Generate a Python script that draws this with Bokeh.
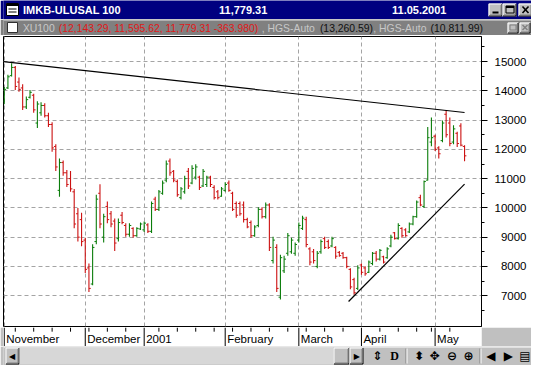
from bokeh.plotting import figure
from bokeh.layouts import column
from bokeh.models import Range1d, FixedTicker, Grid, ColumnDataSource
from bokeh.core.properties import value
from bokeh.embed import file_html
from bokeh.resources import INLINE
import numpy as np

# ---------------- data ----------------
title_name = "IMKB-ULUSAL 100"
title_value = "11,779.31"
title_date = "11.05.2001"
legend_parts = ["XU100", "(12,143.29, 11,595.62, 11,779.31 -363.980)", ", HGS-Auto",
                "(13,260.59)", ", HGS-Auto", "(10,811.99)"]

highs = [14130, 14554, 14945, 14847, 14456, 14228, 13805, 14033, 13902, 13642,
         13609, 13577, 13251, 12925, 12176, 11688, 11623, 11297, 11264, 10646,
         9994, 9831, 8984, 8104, 8756, 10450, 10808, 9798, 10222, 9896,
         9635, 9635, 9863, 9472, 9472, 9342, 9342, 9505, 9537, 9472,
         10222, 10385, 10613, 10939, 11623, 11688, 11297, 10971, 10711, 11101,
         11362, 11460, 11492, 11101, 11329, 11101, 11101, 10776, 10613, 10711,
         10874, 10939, 10548, 10222, 10222, 10222, 9668, 9570, 9407, 10026,
         10026, 10189, 10157, 9016, 8756, 8397, 8365, 9146, 8984, 8821,
         9505, 9733, 9700, 8658, 8593, 8528, 8918, 9016, 8918, 9016,
         8690, 8528, 8495, 8332, 7941, 7616, 8039, 8104, 8007, 8202,
         8495, 8528, 8593, 8365, 8658, 9081, 9179, 9472, 9342, 9309,
         9505, 9733, 10255, 10450, 10939, 12763, 13088, 12502, 12111, 12990,
         13349, 13088, 12828, 12600, 12893, 12143.29]
lows = [13544, 14065, 14489, 14033, 13967, 13349, 13381, 13740, 13251, 12730,
        13153, 13088, 12763, 11916, 11264, 10385, 11101, 10711, 10548, 9309,
        8853, 8690, 7779, 7128, 7356, 8756, 9309, 8821, 9472, 9342,
        8528, 8853, 9440, 9016, 9016, 8984, 9016, 9244, 9179, 9146,
        9146, 9896, 9896, 10450, 10874, 11101, 10874, 10385, 10287, 10483,
        10646, 10808, 10971, 10613, 10711, 10711, 10711, 10287, 10287, 10385,
        10548, 10548, 9896, 9668, 9733, 9505, 9309, 8984, 9016, 9342,
        9635, 9635, 8528, 8104, 7128, 6867, 7779, 8365, 8430, 8365,
        8821, 9244, 8658, 8039, 8104, 7941, 8430, 8593, 8593, 8658,
        8267, 8332, 8267, 7941, 7225, 7030, 7193, 7714, 7681, 7779,
        8039, 8169, 8202, 8104, 8267, 8658, 8918, 8918, 8984, 9016,
        9146, 9407, 9668, 10059, 9994, 10939, 12111, 11948, 11688, 12241,
        12404, 12111, 12176, 12078, 12111, 11595.62]
opens = [13650, 14100, 14520, 14800, 14300, 14100, 13450, 13780, 13850, 12900,
         13250, 13500, 13150, 12850, 12100, 10600, 11550, 11200, 11000, 10550,
         9800, 9600, 8900, 7950, 7400, 8850, 10500, 9000, 10050, 9800,
         9550, 8950, 9750, 9400, 9100, 9300, 9050, 9280, 9250, 9420,
         9200, 10300, 9950, 10500, 10950, 11600, 11250, 10900, 10350, 10550,
         11250, 10850, 11050, 11050, 10750, 10800, 11050, 10700, 10550, 10400,
         10600, 10850, 10500, 10150, 10150, 10100, 9600, 9500, 9050, 9400,
         9950, 9700, 10100, 8200, 8650, 6950, 7850, 8450, 8500, 8450,
         8900, 9300, 9600, 8600, 8500, 8000, 8500, 8950, 8850, 8700,
         8650, 8480, 8450, 8300, 7900, 7550, 7250, 8050, 7950, 7800,
         8100, 8450, 8250, 8330, 8300, 8700, 9150, 8950, 9300, 9250,
         9180, 9450, 9700, 10350, 10050, 10950, 12250, 12450, 12050, 12300,
         13200, 12900, 12250, 12550, 12800, 12100]
closes = [14050, 14480, 14800, 14150, 14050, 13450, 13700, 13950, 13350, 13550,
          13500, 13150, 12850, 12050, 11400, 11550, 11200, 10800, 10650, 9450,
          9000, 8850, 7900, 7250, 8650, 10300, 9450, 9700, 9600, 9450,
          8800, 9500, 9500, 9100, 9400, 9050, 9300, 9450, 9480, 9200,
          10150, 9950, 10550, 10850, 11500, 11200, 10950, 10450, 10650, 11000,
          10750, 11350, 11400, 10700, 11250, 11050, 10800, 10350, 10350, 10650,
          10800, 10600, 9950, 9750, 9800, 9600, 9350, 9050, 9350, 9950,
          9700, 10100, 8650, 8900, 7250, 8300, 8250, 9050, 8900, 8750,
          9400, 9650, 8750, 8150, 8200, 8450, 8850, 8650, 8650, 8950,
          8350, 8370, 8300, 8000, 7300, 7100, 7950, 7800, 7750, 8150,
          8450, 8250, 8550, 8150, 8600, 9000, 8950, 9400, 9050, 9050,
          9450, 9700, 10200, 10100, 10900, 12400, 12400, 12000, 11850, 12900,
          12500, 12200, 12700, 12200, 12143.29, 11779.31]

month_starts = [0, 22, 38, 60, 80, 97, 117]
month_labels = ["November", "December", "2001", "February", "March", "April", "May"]
week_ticks = [3, 8, 13, 18, 23, 28, 33, 42, 47, 52, 57, 62, 67, 72, 77,
              82, 87, 92, 102, 107, 112, 116, 121]
y_ticks = [7000, 8000, 9000, 10000, 11000, 12000, 13000, 14000, 15000]
y_minor = [6500, 7500, 8500, 9500, 10500, 11500, 12500, 13500, 14500, 15500]

upper_trend_x = [-0.2, 125]
upper_trend_y = [15000, 13260.59]
lower_trend_x = [93.5, 125]
lower_trend_y = [6802, 10811.99]

# ---------------- styling helpers ----------------
W = 531
BL, BR = 3, 50
FW = W - BL - BR
SANS = value("Liberation Sans")
SYM = value("DejaVu Sans")
FACE = "#c0c0c0"


def deco_fig(h, bg):
    f = figure(frame_width=W, frame_height=h, x_range=Range1d(0, W), y_range=Range1d(h, 0),
               x_axis_location=None, y_axis_location=None, toolbar_location=None,
               output_backend="svg", min_border_left=0, min_border_right=0,
               min_border_top=0, min_border_bottom=0)
    f.background_fill_color = bg
    f.border_fill_color = bg
    f.outline_line_color = None
    f.grid.visible = False
    return f


def raised(f, x0, y0, x1, y1):
    f.quad(left=[x0], right=[x1], top=[y0], bottom=[y1], fill_color=FACE, line_color=None)
    f.segment(x0=[x0 + 0.5, x0 + 0.5], y0=[y0 + 0.5, y0 + 0.5],
              x1=[x1 - 0.5, x0 + 0.5], y1=[y0 + 0.5, y1 - 0.5], line_color="white")
    f.segment(x0=[x0 + 0.5, x1 - 0.5], y0=[y1 - 0.5, y0 + 0.5],
              x1=[x1 - 0.5, x1 - 0.5], y1=[y1 - 0.5, y1 - 0.5], line_color="black")
    f.segment(x0=[x0 + 1.5, x1 - 1.5], y0=[y1 - 1.5, y0 + 1.5],
              x1=[x1 - 1.5, x1 - 1.5], y1=[y1 - 1.5, y1 - 1.5], line_color="#808080")


# ---------------- title bar ----------------
tb = deco_fig(19, "#000080")
tb.quad(left=[3], right=[15], top=[3], bottom=[15], fill_color="white", line_color="black")
tb.segment(x0=[3, 5, 5], y0=[4.5, 8.5, 11.5], x1=[15, 13, 13], y1=[4.5, 8.5, 11.5],
           line_color="black", line_width=[2, 1, 1])
tb.text(x=[19.5, 215.5, 388.5], y=[9.8, 9.8, 9.8], text=[title_name, title_value, title_date],
        text_font=SANS, text_font_size="11px", text_font_style="bold",
        text_color="white", text_baseline="middle", text_align="left")
raised(tb, 485, 3, 499, 16)
raised(tb, 499, 3, 513, 16)
raised(tb, 515, 3, 529, 16)
tb.segment(x0=[489], y0=[12], x1=[495], y1=[12], line_color="black", line_width=2)
tb.quad(left=[502.5], right=[510.5], top=[5.5], bottom=[12.5], fill_color=None, line_color="black")
tb.segment(x0=[502.5], y0=[6.5], x1=[510.5], y1=[6.5], line_color="black", line_width=2)
tb.segment(x0=[519, 525], y0=[6, 6], x1=[525, 519], y1=[12.5, 12.5], line_color="black", line_width=1.6)

# ---------------- legend bar ----------------
lb = deco_fig(16, "#808080")
lb.segment(x0=[0], y0=[0.5], x1=[W], y1=[0.5], line_color="#e0e0e0")
lb.quad(left=[4], right=[14], top=[3], bottom=[13], fill_color="white", line_color="#303030")
lb_x = [19.4, 55.3, 258.2, 316.4, 369.8, 427.1]
lb_col = ["#c8c8c8", "#e01818", "#c8c8c8", "#101010", "#c8c8c8", "#101010"]
lb.text(x=lb_x, y=[8.6] * 6, text=legend_parts, text_font=SANS, text_font_size="10.4px",
        text_color=lb_col, text_baseline="middle", text_align="left")
raised(lb, 504, 3, 515, 14)
raised(lb, 516, 3, 527, 14)
lb.quad(left=[506.5], right=[512.5], top=[5.5], bottom=[10.5], fill_color=None, line_color="#808080")
lb.segment(x0=[519, 524], y0=[5.5, 5.5], x1=[524, 519], y1=[10.5, 10.5], line_color="#808080", line_width=1.4)

# ---------------- main chart ----------------
p = figure(frame_width=FW, frame_height=290, x_range=Range1d(-0.2, 129.6), y_range=Range1d(5948, 15857),
           x_axis_location=None, y_axis_location="right", toolbar_location=None,
           output_backend="svg", min_border_left=BL, min_border_right=BR,
           min_border_top=1, min_border_bottom=1)
p.background_fill_color = "white"
p.border_fill_color = "white"
p.outline_line_color = "black"
p.outline_line_width = 1
p.grid.visible = False

grid_style = dict(grid_line_color="#a4a4a4", grid_line_dash="4 3", grid_line_width=1)
p.add_layout(Grid(dimension=1, ticker=FixedTicker(ticks=y_ticks), **grid_style))
p.add_layout(Grid(dimension=0, ticker=FixedTicker(ticks=month_starts), **grid_style))

ax = p.yaxis[0]
ax.ticker = FixedTicker(ticks=y_ticks, minor_ticks=y_minor)
ax.major_label_overrides = {t: ("\u2007" + str(t) if t < 10000 else str(t)) for t in y_ticks}
ax.axis_line_color = "black"
ax.major_tick_line_color = "black"
ax.minor_tick_line_color = "black"
ax.major_tick_out = 6
ax.major_tick_in = 0
ax.minor_tick_out = 3
ax.minor_tick_in = 0
ax.major_label_standoff = 7
ax.major_label_text_font = "Liberation Sans"
ax.major_label_text_font_size = "11.5px"
ax.major_label_text_color = "black"

idx = np.arange(len(highs))
colors = ["#0b7d0b" if c >= o else "#cc1111" for o, c in zip(opens, closes)]
src = ColumnDataSource(dict(x=idx, xl=idx - 0.5, xr=idx + 0.5, hi=highs, lo=lows,
                            op=opens, cl=closes, color=colors))
p.segment(x0="x", y0="lo", x1="x", y1="hi", line_color="color", line_width=1.1, source=src)
p.segment(x0="xl", y0="op", x1="x", y1="op", line_color="color", line_width=1, source=src)
p.segment(x0="x", y0="cl", x1="xr", y1="cl", line_color="color", line_width=1, source=src)

p.line(upper_trend_x, upper_trend_y, line_color="black", line_width=1.2)
p.line(lower_trend_x, lower_trend_y, line_color="black", line_width=1.2)

# ---------------- date strip ----------------
ds = figure(frame_width=FW, frame_height=19, x_range=p.x_range, y_range=Range1d(0, 1),
            x_axis_location=None, y_axis_location=None, toolbar_location=None,
            output_backend="svg", min_border_left=BL, min_border_right=BR,
            min_border_top=0, min_border_bottom=0)
ds.background_fill_color = "white"
ds.border_fill_color = FACE
ds.outline_line_color = None
ds.grid.visible = False
ds.segment(x0=month_starts, y0=0, x1=month_starts, y1=1, line_color="black", line_width=1)
ds.segment(x0=week_ticks, y0=1, x1=week_ticks, y1=0.78, line_color="black", line_width=1)
ds.text(x=month_starts, y=0.42, text=month_labels, x_offset=2, text_font=SANS,
        text_font_size="11.5px", text_color="black", text_baseline="middle", text_align="left")

# ---------------- scroll / tool row ----------------
sb = deco_fig(19, FACE)
sb.segment(x0=[0], y0=[0.5], x1=[W], y1=[0.5], line_color="white")
raised(sb, 2, 1, 16, 18)
sb.quad(left=[16], right=[330], top=[1], bottom=[18], fill_color="#d7d7d7", line_color=None)
raised(sb, 330, 1, 346, 18)
raised(sb, 346, 1, 360, 18)
sb.text(x=[8.6, 353.4], y=[9.8, 9.8], text=["\u25C0", "\u25B6"], text_font=SYM,
        text_font_size="8px", text_color="black", text_baseline="middle", text_align="center")
sb.segment(x0=[402.5, 476.5], y0=[2, 2], x1=[402.5, 476.5], y1=[17, 17], line_color="#808080")
sb.segment(x0=[403.5, 477.5], y0=[2, 2], x1=[403.5, 477.5], y1=[17, 17], line_color="white")
sb.text(x=[373.7, 415.5, 431.0, 448.5, 465.0, 487.3, 504.8, 521.3], y=[9.8] * 8,
        text=["\u21D5", "\u2B0D", "\u2725", "\u2296", "\u2295", "\u25C0", "\u25B6", "\u25A4"],
        text_font=SYM, text_font_size="12px", text_font_style="bold",
        text_color="black", text_baseline="middle", text_align="center")
sb.text(x=[391.2], y=[9.8], text=["D"], text_font=value("Liberation Serif"),
        text_font_size="12px", text_font_style="bold", text_color="black",
        text_baseline="middle", text_align="center")

layout = column(tb, lb, p, ds, sb, spacing=0)
open("out.html", "w").write(file_html(layout, INLINE))
